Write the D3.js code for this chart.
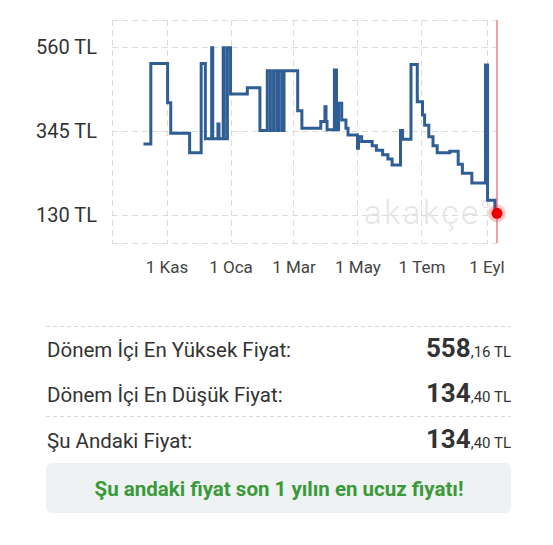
<!DOCTYPE html>
<html>
<head>
<meta charset="utf-8">
<script src="https://cdn.jsdelivr.net/npm/d3@7"></script>
<style>
  html, body { margin: 0; padding: 0; background: #ffffff; }
  svg { display: block; font-family: Roboto, "Noto Sans", Arial, sans-serif; }
</style>
</head>
<body>
<svg id="chart" width="553" height="545"></svg>
<script>
// ---- data ----
const priceDates = [
  "2023-10-10","2023-10-17","2023-11-02","2023-11-05","2023-11-23","2023-12-04","2023-12-08",
  "2023-12-14","2023-12-15","2023-12-20","2023-12-21","2023-12-25","2023-12-26","2023-12-29",
  "2024-01-01","2024-01-17","2024-01-29","2024-02-05","2024-02-08","2024-02-11","2024-02-14",
  "2024-02-16","2024-02-19","2024-02-21","2024-03-05","2024-03-09","2024-03-27","2024-03-31",
  "2024-04-01","2024-04-02","2024-04-09","2024-04-11","2024-04-13","2024-04-16","2024-04-20",
  "2024-04-22","2024-05-01","2024-05-02","2024-05-05","2024-05-15","2024-05-19","2024-05-25",
  "2024-05-30","2024-06-03","2024-06-11","2024-06-13","2024-06-21","2024-06-27","2024-07-02",
  "2024-07-04","2024-07-08","2024-07-12","2024-07-16","2024-07-28","2024-08-05","2024-08-09",
  "2024-08-18","2024-08-31","2024-09-02","2024-09-09","2024-09-11"
];
const priceValues = [
  312, 518, 417, 339, 289, 518, 325,
  558.16, 325, 363, 325, 558.16, 325, 558.16,
  440, 456, 346, 499, 346, 499, 346,
  499, 346, 499, 397, 352, 369, 407,
  369, 348, 501, 348, 416, 373, 352,
  335, 301, 330, 318, 307, 296, 284,
  273, 258, 346, 324, 515, 420, 386,
  360, 330, 307, 289, 293, 260, 237,
  212, 514, 168, 134.4, 134.4
];
const periodStart = "2023-09-10";
const periodEnd = "2024-09-11";
const yTickValues = [130, 345, 560];
const yTickLabels = ["130 TL", "345 TL", "560 TL"];
const xTickDates = ["2023-11-01","2024-01-01","2024-03-01","2024-05-01","2024-07-01","2024-09-01"];
const xTickLabels = ["1 Kas","1 Oca","1 Mar","1 May","1 Tem","1 Eyl"];
const currentDate = "2024-09-11";
const currentPrice = 134.4;

const rowLabels = ["Dönem İçi En Yüksek Fiyat:", "Dönem İçi En Düşük Fiyat:", "Şu Andaki Fiyat:"];
const rowInt = ["558", "134", "134"];
const rowDec = [",16 TL", ",40 TL", ",40 TL"];
const noteText = "Şu andaki fiyat son 1 yılın en ucuz fiyatı!";
const watermarkText = "akakçe";

// ---- setup ----
const parse = d3.utcParse("%Y-%m-%d");
const series = priceDates.map((d, i) => ({ date: parse(d), value: priceValues[i] }));
const svg = d3.select("#chart");

const plot = { left: 112, right: 497, top: 20, bottom: 243 };
const x = d3.scaleUtc().domain([parse(periodStart), parse(periodEnd)]).range([plot.left, plot.right]);
const y = d3.scaleLinear().domain([58.3, 629.1]).range([plot.bottom, plot.top]);

const gridColor = "#dcdcdc";
const grid = svg.append("g");
[plot.top, plot.bottom].forEach(py => grid.append("line")
  .attr("x1", plot.left).attr("x2", plot.right).attr("y1", py + 0.5).attr("y2", py + 0.5)
  .attr("stroke", gridColor).attr("stroke-width", 1).attr("stroke-dasharray", "6,4"));
yTickValues.forEach(v => grid.append("line")
  .attr("x1", plot.left).attr("x2", plot.right).attr("y1", Math.round(y(v)) + 0.5).attr("y2", Math.round(y(v)) + 0.5)
  .attr("stroke", gridColor).attr("stroke-width", 1).attr("stroke-dasharray", "6,4"));
grid.append("line").attr("x1", plot.left + 0.5).attr("x2", plot.left + 0.5).attr("y1", plot.top).attr("y2", plot.bottom)
  .attr("stroke", gridColor).attr("stroke-dasharray", "6,4");
xTickDates.forEach(d => {
  const px = Math.round(x(parse(d))) + 0.5;
  grid.append("line").attr("x1", px).attr("x2", px).attr("y1", plot.top).attr("y2", plot.bottom)
    .attr("stroke", gridColor).attr("stroke-dasharray", "6,4");
});

// y axis labels
const yAxis = d3.axisLeft(y).tickValues(yTickValues).tickSize(0).tickPadding(0)
  .tickFormat((d, i) => yTickLabels[i]);
const gy = svg.append("g").attr("transform", "translate(97,0)").call(yAxis);
gy.select(".domain").remove();
gy.selectAll("text").attr("font-size", 20).attr("fill", "#333").attr("font-family", "Roboto, sans-serif")
  .attr("dy", "0.35em");

// x axis labels
const xAxis = d3.axisBottom(x).tickValues(xTickDates.map(parse)).tickSize(0).tickPadding(0)
  .tickFormat((d, i) => xTickLabels[i]);
const gx = svg.append("g").attr("transform", "translate(0,273)").call(xAxis);
gx.select(".domain").remove();
gx.selectAll("text").attr("font-size", 17).attr("fill", "#444").attr("font-family", "Roboto, sans-serif")
  .attr("dy", 0);

// watermark
svg.append("text").attr("x", 364).attr("y", 224).text(watermarkText)
  .attr("font-size", 33).attr("font-weight", 300).attr("letter-spacing", 2.5)
  .attr("fill", "#e6e6e6").attr("font-family", "Roboto, sans-serif");
svg.append("circle").attr("cx", 486).attr("cy", 204).attr("r", 3.5)
  .attr("fill", "none").attr("stroke", "#e6e6e6").attr("stroke-width", 1.5);

// red current line
const cx = x(parse(currentDate));
svg.append("line").attr("x1", cx).attr("x2", cx).attr("y1", plot.top).attr("y2", plot.bottom)
  .attr("stroke", "#f2a0a0").attr("stroke-width", 2);

// price line
const line = d3.line().x(d => x(d.date)).y(d => y(d.value)).curve(d3.curveStepAfter);
svg.append("path").datum(series).attr("d", line)
  .attr("fill", "none").attr("stroke", "#2f5e94").attr("stroke-width", 3);

// current dot
svg.append("circle").attr("cx", cx).attr("cy", y(currentPrice)).attr("r", 9)
  .attr("fill", "#ff2a2a").attr("opacity", 0.25);
svg.append("circle").attr("cx", cx).attr("cy", y(currentPrice)).attr("r", 5.5)
  .attr("fill", "#ee0000");

// ---- table ----
const tableLeft = 46, tableRight = 511;
const rowBase = [357, 402, 448];
[326, 416].forEach(py => svg.append("line")
  .attr("x1", tableLeft).attr("x2", tableRight).attr("y1", py + 0.5).attr("y2", py + 0.5)
  .attr("stroke", "#d8d8d8").attr("stroke-dasharray", "4,3"));

rowLabels.forEach((t, i) => {
  svg.append("text").attr("x", tableLeft + 1).attr("y", rowBase[i]).text(t)
    .attr("font-size", 20.5).attr("fill", "#333");
  const vt = svg.append("text").attr("x", tableRight).attr("y", rowBase[i]).attr("text-anchor", "end")
    .attr("fill", "#333");
  vt.append("tspan").text(rowInt[i]).attr("font-size", 26).attr("font-weight", 700);
  vt.append("tspan").text(rowDec[i]).attr("font-size", 15);
});

svg.append("rect").attr("x", 46).attr("y", 463).attr("width", 465).attr("height", 50)
  .attr("rx", 6).attr("fill", "#eef2f3");
svg.append("text").attr("x", 279).attr("y", 496).attr("text-anchor", "middle").text(noteText)
  .attr("font-size", 20.5).attr("font-weight", 700).attr("fill", "#3a9a3a");
</script>
</body>
</html>
